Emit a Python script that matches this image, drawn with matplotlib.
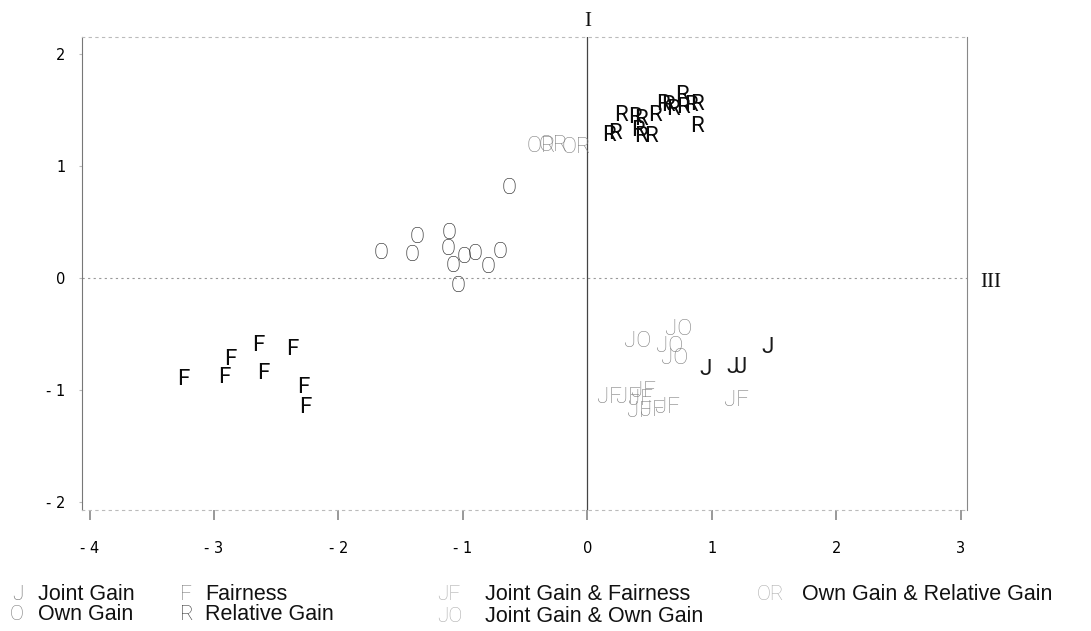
import matplotlib.pyplot as plt
import numpy as np

# point positions for each strategy group
r_x = [0.17, 0.22, 0.27, 0.38, 0.43, 0.41, 0.43, 0.51, 0.54, 0.61, 0.65, 0.69, 0.76, 0.77, 0.83, 0.88, 0.88]
r_y = [1.27, 1.29, 1.45, 1.43, 1.41, 1.32, 1.26, 1.26, 1.45, 1.55, 1.54, 1.50, 1.63, 1.52, 1.54, 1.55, 1.35]

or_x = [-0.37, -0.27, -0.09]
or_y = [1.17, 1.18, 1.16]

o_x = [-1.66, -1.37, -1.41, -1.11, -1.12, -1.08, -0.99, -0.90, -0.80, -0.70, -1.04, -0.63]
o_y = [0.22, 0.36, 0.20, 0.40, 0.25, 0.10, 0.18, 0.21, 0.09, 0.23, -0.08, 0.80]

f_x = [-3.25, -2.92, -2.87, -2.64, -2.60, -2.37, -2.28, -2.27]
f_y = [-0.91, -0.89, -0.73, -0.60, -0.85, -0.64, -0.98, -1.16]

j_x = [0.95, 1.17, 1.23, 1.45]
j_y = [-0.82, -0.80, -0.80, -0.62]

jo_x = [0.40, 0.73, 0.66, 0.70]
jo_y = [-0.57, -0.46, -0.61, -0.72]

jf_x = [0.18, 0.33, 0.45, 0.43, 0.42, 0.52, 0.64, 1.20]
jf_y = [-1.07, -1.07, -1.01, -1.08, -1.19, -1.18, -1.16, -1.09]

x_ticks = [-4, -3, -2, -1, 0, 1, 2, 3]
y_ticks = [-2, -1, 0, 1, 2]

# symbol, points, plot colour, weight, key colour, key label
groups = [
    ('J', j_x, j_y, '#1a1a1a', 'normal', '#666666', 'Joint Gain'),
    ('O', o_x, o_y, '#1a1a1a', 'light', '#777777', 'Own Gain'),
    ('F', f_x, f_y, '#0a0a0a', 'normal', '#777777', 'Fairness'),
    ('R', r_x, r_y, '#0a0a0a', 'normal', '#333333', 'Relative Gain'),
    ('JF', jf_x, jf_y, '#808080', 'light', '#aaaaaa', 'Joint Gain & Fairness'),
    ('JO', jo_x, jo_y, '#808080', 'light', '#aaaaaa', 'Joint Gain & Own Gain'),
    ('OR', or_x, or_y, '#808080', 'light', '#aaaaaa', 'Own Gain & Relative Gain'),
]

mark_font = ['Roboto', 'Liberation Sans', 'DejaVu Sans']

fig = plt.figure(figsize=(10.91, 6.31), dpi=100)
ax = fig.add_axes([0.0752, 0.1918, 0.8111, 0.7496])
ax.set_xlim(-4.06, 3.05)
ax.set_ylim(-2.07, 2.15)

for sym, xs, ys, col, wt, kcol, lab in groups:
    for x, y in zip(xs, ys):
        ax.text(x, y, sym, ha='center', va='center', fontsize=16,
                color=col, family=mark_font, fontweight=wt)

# quadrant axes
ax.axhline(0, color='#999999', lw=0.8, ls=(0, (2, 3)))
ax.axvline(0, color='#444444', lw=0.9)
ax.text(0, 2.29, 'I', ha='center', va='center', fontsize=15,
        family='Liberation Serif', color='#111111')
ax.text(3.24, -0.04, 'III', ha='center', va='center', fontsize=15,
        family='Liberation Serif', color='#111111')

for side in ['top', 'bottom']:
    ax.spines[side].set_color('#bbbbbb')
    ax.spines[side].set_linestyle((0, (2, 4)))
    ax.spines[side].set_linewidth(0.8)
ax.spines['left'].set_color('#777777')
ax.spines['left'].set_linewidth(0.8)
ax.spines['right'].set_color('#888888')
ax.spines['right'].set_linewidth(0.8)

ax.set_xticks(x_ticks)
ax.set_xticklabels([('- %d' % -t) if t < 0 else str(t) for t in x_ticks])
ax.set_yticks(y_ticks)
ax.set_yticklabels([('- %d' % -t) if t < 0 else str(t) for t in y_ticks])
ax.tick_params(axis='x', direction='out', length=7, width=1.2, color='#888888',
               pad=15, labelsize=10.5)
ax.tick_params(axis='y', direction='out', length=2, width=0.8, color='#bbbbbb',
               pad=10, labelsize=10.5)

# key below the plot
leg_sym_x = [12, 10, 180, 180, 437, 437, 757]
leg_txt_x = [38, 38, 205, 205, 485, 485, 802]
leg_row_y = [594, 614, 594, 614, 594, 616, 594]
for i, (sym, xs, ys, col, wt, kcol, lab) in enumerate(groups):
    ypx = leg_row_y[i]
    fig.text(leg_sym_x[i] / 1091, 1 - ypx / 631, sym, ha='left', va='center',
             fontsize=15, color=kcol, family=mark_font, fontweight='light')
    fig.text(leg_txt_x[i] / 1091, 1 - ypx / 631, lab, ha='left', va='center',
             fontsize=15.5, color='#111111', family='Liberation Sans')

fig.savefig('out.png', dpi=100)
